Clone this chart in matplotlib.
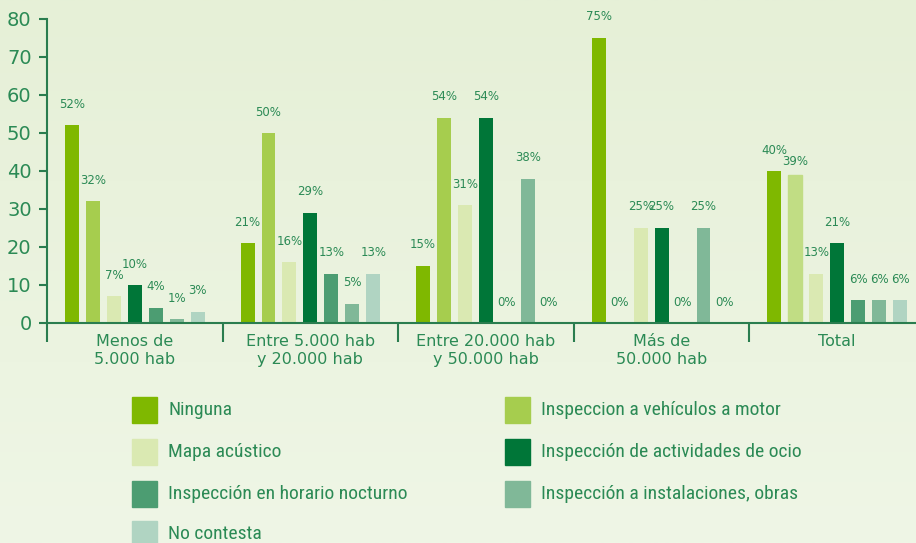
import numpy as np
import matplotlib.pyplot as plt
from matplotlib import font_manager
from matplotlib.patches import Rectangle

installed = {f.name for f in font_manager.fontManager.ttflist}
narrow = [n for n in ["Liberation Sans Narrow", "DejaVu Sans Condensed", "Roboto Condensed"] if n in installed]
legend_font = narrow[:1] + ["DejaVu Sans"]

groups = ["Menos de\n5.000 hab", "Entre 5.000 hab\ny 20.000 hab", "Entre 20.000 hab\ny 50.000 hab",
          "Más de\n50.000 hab", "Total"]
series = ["Ninguna", "Inspeccion a vehículos a motor", "Mapa acústico",
          "Inspección de actividades de ocio", "Inspección en horario nocturno",
          "Inspección a instalaciones, obras", "No contesta"]
ninguna = [52, 21, 15, 75, 40]
vehiculos = [32, 50, 54, 0, 39]
mapa = [7, 16, 31, 25, 13]
ocio = [10, 29, 54, 25, 21]
nocturno = [4, 13, 0, 0, 6]
instalaciones = [1, 5, 38, 25, 6]
no_contesta = [3, 13, 0, 0, 6]
values = [ninguna, vehiculos, mapa, ocio, nocturno, instalaciones, no_contesta]
colors = ["#7fb800", "#a6cd4e", "#dae9b2", "#007638", "#4c9d72", "#80b898", "#b0d4c2"]
text_color = "#2b8a55"
line_color = "#2a7d4f"

fig = plt.figure(figsize=(9.16, 5.43), dpi=100)
# background gradient
bg = fig.add_axes([0, 0, 1, 1], zorder=-10)
grad = np.linspace(0, 1, 256).reshape(-1, 1)
top = np.array([0xe6, 0xf0, 0xd7]) / 255
bot = np.array([0xef, 0xf6, 0xe6]) / 255
img = top + (bot - top) * grad[:, :, None]
bg.imshow(img, aspect="auto", extent=[0, 1, 0, 1])
bg.axis("off")

ax = fig.add_axes([47 / 916, 220 / 543, 878 / 916, 304 / 543])
ax.patch.set_alpha(0)

x = np.arange(len(groups))
step = 21 / 176
width = 14 / 176
for i, (name, vals, c) in enumerate(zip(series, values, colors)):
    pos = x + (i - 3) * step
    bars = ax.bar(pos, vals, width, color=c, label=name)
    if i == 1:
        bars[-1].set_color("#c1dd84")
    for j, (p, v) in enumerate(zip(pos, vals)):
        dy = 13 if (i == 1 and j == len(groups) - 1) else 21
        ax.annotate(f"{v}%", (p, v), xytext=(0, dy), textcoords="offset pixels",
                    ha="center", va="center", fontsize=8.5, color=text_color)

ax.set_xlim(-0.5, len(groups) - 0.5)
ax.set_ylim(0, 80)
ax.set_yticks(range(0, 81, 10))
ax.tick_params(axis="y", colors=line_color, labelcolor=text_color, labelsize=14,
               length=6, width=1.5, pad=5)
ax.set_xticks(np.arange(len(groups) + 1) - 0.5)
ax.set_xticklabels([])
ax.tick_params(axis="x", which="major", colors=line_color, length=14, width=1.5)
ax.set_xticks(x, minor=True)
ax.set_xticklabels(groups, minor=True, fontsize=11.5, color=text_color, linespacing=1.2)
ax.tick_params(axis="x", which="minor", length=0, pad=8)
for s in ["top", "right"]:
    ax.spines[s].set_visible(False)
for s in ["left", "bottom"]:
    ax.spines[s].set_color(line_color)
    ax.spines[s].set_linewidth(1.5)

# legend in two columns
W, H = 916, 543
cols = [132, 505]
rows = [397, 439, 481, 521]
for i, (name, c) in enumerate(zip(series, colors)):
    cx = cols[i % 2]
    ry = rows[i // 2]
    fig.add_artist(Rectangle((cx / W, 1 - (ry + 26) / H), 25 / W, 26 / H,
                             transform=fig.transFigure, color=c))
    fig.text((cx + 36) / W, 1 - (ry + 13) / H, name, va="center", ha="left",
             fontsize=14 if len(narrow) else 11, color=text_color, family=legend_font)

fig.savefig("out.png", dpi=100)
